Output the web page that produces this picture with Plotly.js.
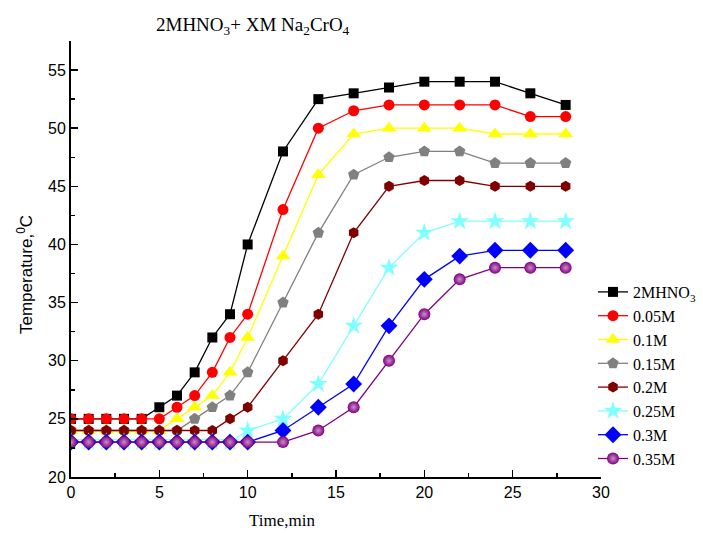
<!DOCTYPE html>
<html>
<head>
<meta charset="utf-8">
<script src="https://cdn.plot.ly/plotly-3.0.1.min.js"></script>
<style>html,body{margin:0;padding:0;background:#fff;}#chart{width:703px;height:533px;}</style>
</head>
<body>
<div id="chart"></div>
<script>
var timeMin = [0,1,2,3,4,5,6,7,8,9,10,12,14,16,18,20,22,24,26,28];
var seriesNames = ["2MHNO<sub>3</sub>","0.05M","0.1M","0.15M","0.2M","0.25M","0.3M","0.35M"];
var hno3   = [25,25,25,25,25,26,27,29,32,34,40,48,52.5,53,53.5,54,54,54,53,52];
var m005   = [25,25,25,25,25,25,26,27,29,32,34,43,50,51.5,52,52,52,52,51,51];
var m01    = [24,24,24,24,24,24,25,26,27,29,32,39,46,49.5,50,50,50,49.5,49.5,49.5];
var m015   = [24,24,24,24,24,24,24,25,26,27,29,35,41,46,47.5,48,48,47,47,47];
var m02    = [24,24,24,24,24,24,24,24,24,25,26,30,34,41,45,45.5,45.5,45,45,45];
var m025   = [23,23,23,23,23,23,23,23,23,23,24,25,28,33,38,41,42,42,42,42];
var m03    = [23,23,23,23,23,23,23,23,23,23,23,24,26,28,33,37,39,39.5,39.5,39.5];
var m035   = [23,23,23,23,23,23,23,23,23,23,23,23,24,26,30,34,37,38,38,38];
var allY = [hno3,m005,m01,m015,m02,m025,m03,m035];

var colors  = ["#000000","#FF0000","#FFFF00","#808080","#800000","#80FFFF","#0000FF","#800080"];
var symbols = ["square","circle","triangle-up","pentagon","hexagon","star","diamond","circle"];
var sizes   = [10,11,13,12,11,14,13,12];

var traces = allY.map(function(y,i){
  var mk = {symbol:symbols[i], color:colors[i], size:sizes[i], line:{width:0}};
  if(i===7){ mk.gradient = {type:"radial", color:"#c890c8"}; }
  return {x:timeMin, y:y, name:seriesNames[i], type:"scatter", mode:"lines+markers",
          line:{color:colors[i], width:1.3}, marker:mk};
});

var layout = {
  width:703, height:533,
  margin:{l:71, r:102, t:41, b:56, autoexpand:false},
  paper_bgcolor:"#fff", plot_bgcolor:"#fff",
  showlegend:true,
  title:{text:"2MHNO<sub>3</sub>+ XM Na<sub>2</sub>CrO<sub>4</sub>", font:{family:"Liberation Serif", size:19, color:"#000"},
         xref:"container", x:156/703, xanchor:"left", yref:"container", y:1-24/533, yanchor:"middle"},
  xaxis:{range:[0,30], showgrid:false, zeroline:false, showline:true, linecolor:"#000", linewidth:2,
         ticks:"inside", ticklen:7, tickwidth:1.5, tickcolor:"#000", dtick:5, tick0:0,
         minor:{dtick:2.5, ticks:"inside", ticklen:4, tickwidth:1.5, tickcolor:"#000"},
         tickfont:{family:"Liberation Sans", size:16, color:"#000"}, mirror:false},
  yaxis:{range:[20,57.5], showgrid:false, zeroline:false, showline:true, linecolor:"#000", linewidth:2,
         ticks:"inside", ticklen:7, tickwidth:1.5, tickcolor:"#000", dtick:5, tick0:0,
         minor:{dtick:2.5, ticks:"inside", ticklen:4, tickwidth:1.5, tickcolor:"#000"},
         tickfont:{family:"Liberation Sans", size:16, color:"#000"}, mirror:false},
  legend:{x:(593-71)/530, xanchor:"left", y:(477-275)/436, yanchor:"top", bgcolor:"rgba(0,0,0,0)",
          font:{family:"Liberation Serif", size:16, color:"#000"}, itemwidth:30},
  annotations:[
    {text:"Temperature,<sup>0</sup>C", xref:"paper", yref:"paper", x:(25-71)/530, y:(477-275)/436,
     xanchor:"center", yanchor:"middle", textangle:-90, showarrow:false,
     font:{family:"Liberation Sans", size:17, color:"#000"}},
    {text:"Time,min", xref:"paper", yref:"paper", x:(282-71)/530, y:(477-520)/436,
     xanchor:"center", yanchor:"middle", showarrow:false,
     font:{family:"Liberation Serif", size:17, color:"#000"}}
  ]
};
Plotly.newPlot("chart", traces, layout, {staticPlot:true, displayModeBar:false});
</script>
</body>
</html>
